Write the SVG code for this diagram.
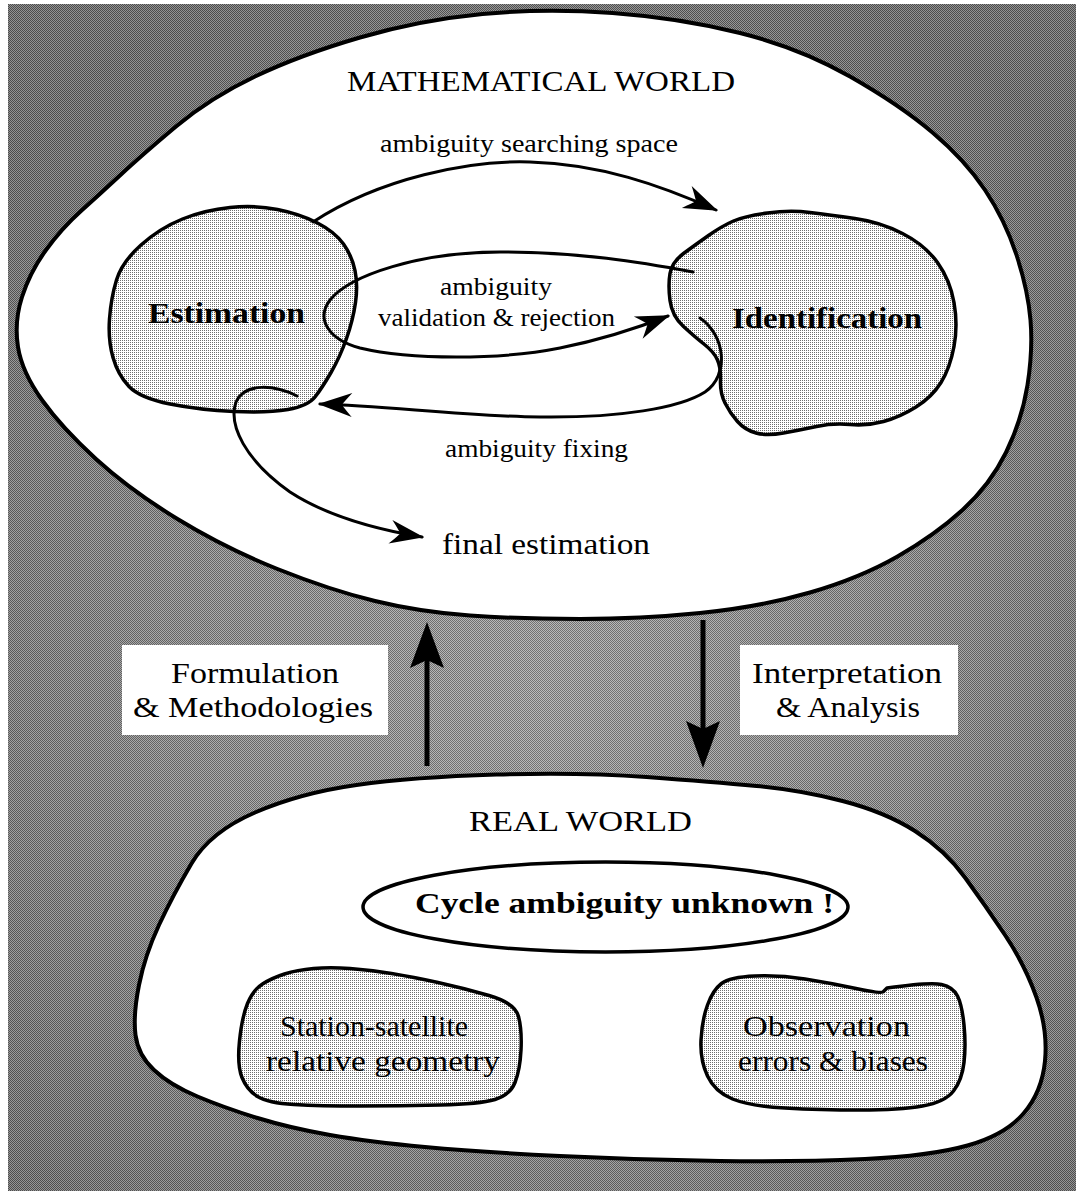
<svg xmlns="http://www.w3.org/2000/svg" width="1081" height="1196" viewBox="0 0 1081 1196">
  <defs>
    <!-- fine screen texture laid over the field tone -->
    <pattern id="screen" width="2" height="2" patternUnits="userSpaceOnUse">
      <rect width="2" height="2" fill="#ffffff"/>
      <rect width="1" height="1" fill="#000000"/>
      <rect x="1" y="1" width="1" height="1" fill="#000000"/>
    </pattern>
    <!-- light dotted tint for the inner blobs -->
    <pattern id="tint" width="2" height="2" patternUnits="userSpaceOnUse">
      <rect width="2" height="2" fill="#ffffff"/>
      <rect width="1" height="1" fill="#6e6e6e"/>
    </pattern>
    <radialGradient id="field" cx="540" cy="690" r="760" gradientUnits="userSpaceOnUse">
      <stop offset="0" stop-color="#a2a2a2"/>
      <stop offset="0.5" stop-color="#8a8a8a"/>
      <stop offset="1" stop-color="#686868"/>
    </radialGradient>
    <marker id="barb" markerUnits="userSpaceOnUse" markerWidth="40" markerHeight="30" viewBox="-36 -15 40 30" refX="0" refY="0" orient="auto">
      <path d="M2,0 L-32,-12 Q-24,-3 -22,0 Q-24,3 -32,12 Z" fill="#000"/>
    </marker>
    <style>
      .world { fill: #ffffff; stroke: #000; stroke-width: 4; }
      .blob { fill: url(#tint); stroke: #000; stroke-width: 3.5; stroke-linejoin: round; }
      .wire { fill: none; stroke: #000; stroke-width: 3; stroke-linecap: round; }
      .shaft { fill: none; stroke: #000; stroke-width: 5; }
      .head { fill: #000; }
      .box { fill: #ffffff; }
      text { font-family: "Liberation Serif", "Times New Roman", serif; fill: #000; text-anchor: middle; }
      .title { font-size: 30px; }
      .small { font-size: 26px; }
      .label { font-size: 30px; }
      .bold { font-size: 30px; font-weight: bold; }
    </style>
  </defs>

  <!-- halftone field behind both worlds -->
  <g id="backdrop">
    <rect width="1081" height="1196" fill="#ffffff"/>
    <rect x="8" y="4" width="1068" height="1187" fill="url(#field)"/>
    <rect x="8" y="4" width="1068" height="1187" fill="url(#screen)" opacity="0.28"/>
  </g>

  <!-- mathematical world oval -->
  <g id="math-world">
    <path class="world" d="M482.5,14 Q545,8 612.5,13 Q680,18 740,33 Q800,48 850,76.5 Q900,105 932.5,132.5 Q965,160 985,190 Q1005,220 1016.5,255 Q1028,290 1030.5,320 Q1033,350 1027.5,385 Q1022,420 1006,452.5 Q990,485 962.5,510 Q935,535 897.5,556.5 Q860,578 810,592.5 Q760,607 700,613 Q640,619 580,619 Q520,619 470,615.5 Q420,612 375,601 Q330,590 277.5,569 Q225,548 177.5,519 Q130,490 96,459 Q62,428 42,400 Q22,372 18,347 Q14,322 22,297 Q30,272 46,250 Q62,228 81,211 Q100,194 121,174.5 Q142,155 176,126.5 Q210,98 255,76.5 Q300,55 360,37.5 Q420,20 482.5,14 Z"/>
    <text class="title" x="541" y="91" textLength="388" lengthAdjust="spacingAndGlyphs">MATHEMATICAL WORLD</text>
  </g>

  <!-- real world region -->
  <g id="real-world">
    <path class="world" d="M255,812.5 Q300,793 356.5,785 Q413,777 496.5,774.5 Q580,772 646.5,777 Q713,782 756.5,786 Q800,790 842.5,801 Q885,812 915,831 Q945,850 965,877.5 Q985,905 1005,935 Q1025,965 1036.5,997.5 Q1048,1030 1045,1061 Q1042,1092 1023.5,1113.5 Q1005,1135 967.5,1145.5 Q930,1156 865,1159 Q800,1162 720,1161 Q640,1160 560,1156 Q480,1152 425,1147 Q370,1142 330,1135 Q290,1128 257.5,1118 Q225,1108 197.5,1096.5 Q170,1085 154,1070 Q138,1055 135.5,1035 Q133,1015 139,985 Q145,955 159,925 Q173,895 191.5,863.5 Q210,832 255,812.5 Z"/>
    <text class="title" x="580.5" y="831" textLength="223" lengthAdjust="spacingAndGlyphs">REAL WORLD</text>
  </g>

  <g id="estimation">
    <path class="blob" d="M141,245 Q160,228 182.5,219 Q205,210 230,207.5 Q255,205 277.5,209.5 Q300,214 317.5,223 Q335,232 343.5,244 Q352,256 355,270.5 Q358,285 355.5,302.5 Q353,320 346.5,338.5 Q340,357 331,372.5 Q322,388 315,397 Q308,406 288,409.5 Q268,413 234,411.5 Q200,410 170,404 Q140,398 129,386.5 Q118,375 113,357.5 Q108,340 109.5,319 Q111,298 116.5,280 Q122,262 141,245 Z"/>
    <text class="bold" x="226.5" y="323" textLength="157" lengthAdjust="spacingAndGlyphs">Estimation</text>
  </g>

  <g id="identification">
    <path class="blob" d="M670,300.5 Q668,285 670,273.5 Q672,262 683.5,253.5 Q695,245 708.5,235.5 Q722,226 733.5,221 Q745,216 767.5,213 Q790,210 810,212.5 Q830,215 855,218.5 Q880,222 902.5,233.5 Q925,245 937.5,262.5 Q950,280 954,302.5 Q958,325 954,346.5 Q950,368 941,382.5 Q932,397 916,407 Q900,417 883.5,421.5 Q867,426 850,424.5 Q833,423 816.5,426.5 Q800,430 783.5,433 Q767,436 756,433 Q745,430 737.5,421.5 Q730,413 725,403 Q720,393 720.5,380.5 Q721,368 717.5,360 Q714,352 704.5,344.5 Q695,337 683.5,326.5 Q672,316 670,300.5 Z"/>
    <text class="bold" x="827" y="328" textLength="190" lengthAdjust="spacingAndGlyphs">Identification</text>
  </g>

  <g id="cycle-ambiguity">
    <ellipse class="world" cx="605.5" cy="907" rx="242.5" ry="45" style="stroke-width:3.5"/>
    <text class="bold" x="624.5" y="913" textLength="419" lengthAdjust="spacingAndGlyphs">Cycle ambiguity unknown !</text>
  </g>

  <g id="station-geometry">
    <path class="blob" d="M247.5,1003.5 Q253,990 262.5,984 Q272,978 284.5,974 Q297,970 313.5,968.5 Q330,967 350,968.5 Q370,970 391.5,973.5 Q413,977 438,982.5 Q463,988 489,995.5 Q515,1003 518.5,1016.5 Q522,1030 521,1050 Q520,1070 515,1082.5 Q510,1095 495,1099.5 Q480,1104 440,1105 Q400,1106 360,1106 Q320,1106 294,1104.5 Q268,1103 257.5,1096.5 Q247,1090 242,1077.5 Q237,1065 239.5,1041 Q242,1017 247.5,1003.5 Z"/>
    <text class="label" x="374" y="1036" textLength="188" lengthAdjust="spacingAndGlyphs">Station-satellite</text>
    <text class="label" x="383" y="1071" textLength="234" lengthAdjust="spacingAndGlyphs">relative geometry</text>
  </g>

  <g id="observation-errors">
    <path class="blob" d="M707.5,1005 Q713,990 721.5,983.5 Q730,977 755,976 Q780,975 805,979 Q830,983 856,988.5 Q882,994 883,992 L887,988 Q930,982 941.5,984.5 Q953,987 957.5,996 Q962,1005 964,1025 Q966,1045 964,1062.5 Q962,1080 953.5,1091 Q945,1102 922.5,1106 Q900,1110 860,1110 Q820,1110 785,1108 Q750,1106 732.5,1099 Q715,1092 707.5,1076 Q700,1060 701,1040 Q702,1020 707.5,1005 Z"/>
    <text class="label" x="826.5" y="1036" textLength="167" lengthAdjust="spacingAndGlyphs">Observation</text>
    <text class="label" x="833" y="1071" textLength="190" lengthAdjust="spacingAndGlyphs">errors &amp; biases</text>
  </g>

  <g id="final-estimation">
    <text class="label" x="546" y="554" textLength="208" lengthAdjust="spacingAndGlyphs">final estimation</text>
  </g>

  <!-- connectors between the nodes, and between the two worlds -->
  <g id="connectors">
    <path class="wire" marker-end="url(#barb)" d="M313,222 C380,178 470,160 530,162 C600,164 660,185 716,210"/>
    <path class="wire" marker-end="url(#barb)" d="M693,272 C640,262 580,252 500,252 C420,252 350,275 330,300 C315,320 330,340 360,348 C410,360 500,360 560,348 C600,340 640,327 668,316"/>
    <path class="wire" marker-end="url(#barb)" d="M700,318 C725,335 730,375 705,392 C680,408 620,418 540,417 C460,416 390,406 320,404"/>
    <path class="wire" marker-end="url(#barb)" d="M297,396 C275,385 245,382 236,402 C228,425 245,460 290,492 C330,518 380,530 422,537"/>

    <line class="shaft" x1="427" y1="766" x2="427" y2="655"/>
    <path class="head" d="M427,622 L444,668 L427,660 L410,668 Z"/>
    <line class="shaft" x1="703" y1="620" x2="703" y2="735"/>
    <path class="head" d="M703,768 L720,721 L703,729 L686,721 Z"/>

    <text class="small" x="529" y="152" textLength="298" lengthAdjust="spacingAndGlyphs">ambiguity searching space</text>
    <text class="small" x="496" y="295" textLength="112" lengthAdjust="spacingAndGlyphs">ambiguity</text>
    <text class="small" x="496.5" y="326" textLength="237" lengthAdjust="spacingAndGlyphs">validation &amp; rejection</text>
    <text class="small" x="536.5" y="457" textLength="183" lengthAdjust="spacingAndGlyphs">ambiguity fixing</text>
  </g>

  <g id="formulation">
    <rect class="box" x="122" y="645" width="266" height="90"/>
    <text class="label" x="255" y="683" textLength="168" lengthAdjust="spacingAndGlyphs">Formulation</text>
    <text class="label" x="253" y="717" textLength="240" lengthAdjust="spacingAndGlyphs">&amp; Methodologies</text>
  </g>

  <g id="interpretation">
    <rect class="box" x="740" y="645" width="218" height="90"/>
    <text class="label" x="847" y="683" textLength="190" lengthAdjust="spacingAndGlyphs">Interpretation</text>
    <text class="label" x="848" y="717" textLength="144" lengthAdjust="spacingAndGlyphs">&amp; Analysis</text>
  </g>
</svg>
